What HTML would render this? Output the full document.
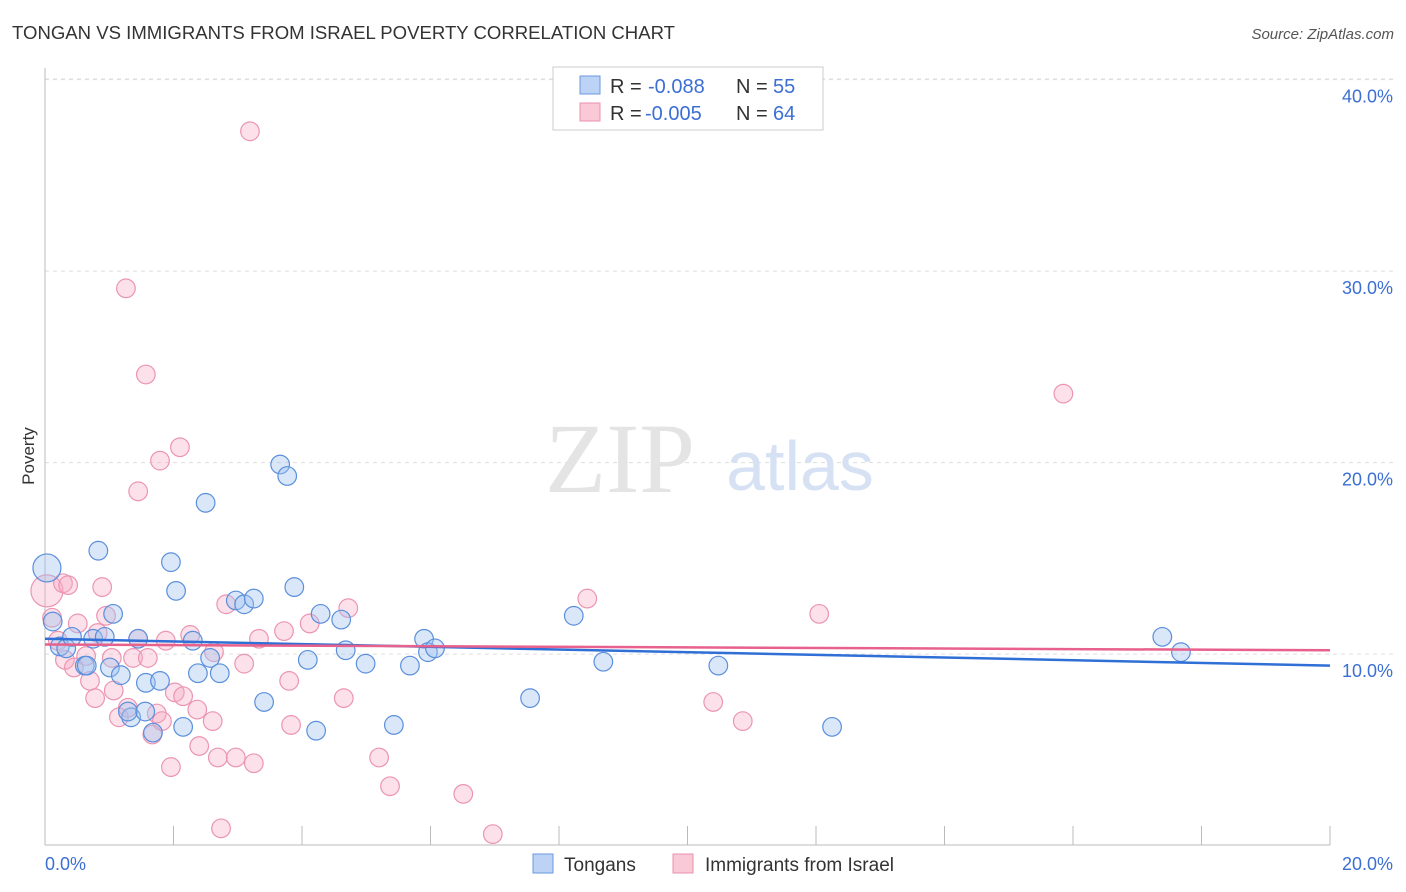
<!DOCTYPE html>
<html><head><meta charset="utf-8"><style>
body{margin:0;background:#fff;font-family:"Liberation Sans",sans-serif}
</style></head><body>
<svg width="1406" height="892" style="display:block">
<text x="12" y="39" font-size="18" fill="#333" textLength="663" lengthAdjust="spacingAndGlyphs">TONGAN VS IMMIGRANTS FROM ISRAEL POVERTY CORRELATION CHART</text>
<text x="1394" y="39" font-size="15" fill="#555" text-anchor="end" font-style="italic">Source: ZipAtlas.com</text>
<g id="grid"></g>
<line x1="45" y1="68" x2="45" y2="845" stroke="#bbb"/>
<line x1="45" y1="845" x2="1330" y2="845" stroke="#bbb"/>
<text x="34" y="456" font-size="17" fill="#333" transform="rotate(-90 34 456)" text-anchor="middle">Poverty</text>
<text x="620" y="492" font-size="100" fill="#e4e4e4" font-family="Liberation Serif" text-anchor="middle">ZIP</text>
<text x="800" y="490" font-size="70" fill="#d6e2f4" text-anchor="middle">atlas</text>
<g id="pts"></g>
<g id="lines"></g>
<text x="45" y="870" font-size="18" fill="#3b6fd4">0.0%</text>
<text x="1393" y="870" font-size="18" fill="#3b6fd4" text-anchor="end">20.0%</text>
<g font-size="20">
<rect x="553" y="67" width="270" height="63" fill="#fff" stroke="#ccc"/>
<rect x="580" y="76" width="20" height="18" fill="#bcd3f5" stroke="#6a9ae0"/>
<rect x="580" y="103" width="20" height="18" fill="#f9c9d7" stroke="#e891ad"/>
<text x="610" y="93" fill="#333">R =</text><text x="648" y="93" fill="#3b6fd4">-0.088</text>
<text x="736" y="93" fill="#333">N =</text><text x="773" y="93" fill="#3b6fd4">55</text>
<text x="610" y="120" fill="#333">R =</text><text x="645" y="120" fill="#3b6fd4">-0.005</text>
<text x="736" y="120" fill="#333">N =</text><text x="773" y="120" fill="#3b6fd4">64</text>
</g>
<g>
<rect x="533" y="854" width="20" height="19" fill="#bcd3f5" stroke="#6a9ae0"/>
<text x="564" y="871" font-size="19" fill="#333">Tongans</text>
<rect x="673" y="854" width="20" height="19" fill="#f9c9d7" stroke="#e891ad"/>
<text x="705" y="871" font-size="19" fill="#333">Immigrants from Israel</text>
</g>
</svg>
<script>
const yTicks=[10,20,30,40];
const yTickLabels=["10.0%","20.0%","30.0%","40.0%"];
const xTicks=[0,2,4,6,8,10,12,14,16,18,20];
const tonganX=[0.03,0.12,0.23,0.33,0.42,0.62,0.65,0.83,0.75,0.93,1.06,1.01,1.18,1.34,1.29,1.45,1.57,1.56,1.68,1.79,1.96,2.04,2.15,2.30,2.38,2.50,2.57,2.72,2.97,3.10,3.25,3.41,3.66,3.77,3.88,4.09,4.22,4.29,4.61,4.68,4.99,5.43,5.68,5.90,5.96,6.07,7.55,8.23,8.69,10.48,12.25,17.39,17.68];
const tonganY=[14.5,11.7,10.4,10.3,10.9,9.4,9.4,15.4,10.8,10.9,12.1,9.3,8.9,6.7,7.0,10.8,8.5,7.0,5.9,8.6,14.8,13.3,6.2,10.7,9.0,17.9,9.8,9.0,12.8,12.6,12.9,7.5,19.9,19.3,13.5,9.7,6.0,12.1,11.8,10.2,9.5,6.3,9.4,10.8,10.1,10.3,7.7,12.0,9.6,9.4,6.2,10.9,10.1];
const tonganR=[14];
const israelX=[0.03,0.11,0.20,0.28,0.31,0.36,0.45,0.51,0.64,0.70,0.78,0.82,0.89,0.95,1.04,1.07,1.15,1.26,1.29,1.37,1.45,1.57,1.60,1.67,1.74,1.79,1.82,1.88,1.96,2.02,2.10,2.15,2.26,2.37,2.40,2.61,2.63,2.69,2.74,2.82,2.97,3.10,3.19,3.25,3.33,3.80,3.72,3.83,4.12,4.65,4.72,5.20,5.37,6.51,6.97,8.44,10.40,10.86,12.05,15.85,1.45];
const israelY=[13.3,11.9,10.7,13.7,9.7,13.6,9.3,11.6,9.9,8.6,7.7,11.1,13.5,12.0,9.8,8.1,6.7,29.1,7.2,9.8,10.8,24.6,9.8,5.8,6.9,20.1,6.5,10.7,4.1,8.0,20.8,7.8,11.0,7.1,5.2,6.5,10.1,4.6,0.9,12.6,4.6,9.5,37.3,4.3,10.8,8.6,11.2,6.3,11.6,7.7,12.4,4.6,3.1,2.7,0.6,12.9,7.5,6.5,12.1,23.6,18.5];
const israelR=[16];
const tonganTrend=[10.8,9.4];
const israelTrend=[10.5,10.2];
const X0=45,X1=1330,Y0=845.6,PY=19.15;
const xs=v=>X0+(X1-X0)*v/20, ys=v=>Y0-v*PY;
const NS="http://www.w3.org/2000/svg";
const grid=document.getElementById('grid');
function mk(t,a,p){const e=document.createElementNS(NS,t);for(const k in a)e.setAttribute(k,a[k]);p.appendChild(e);return e;}
yTicks.forEach((v,i)=>{
 const l=mk('line',{x1:45,x2:1393,y1:ys(v),y2:ys(v),stroke:'#ddd','stroke-dasharray':'4 4'},grid);
 
 
 const t=mk('text',{x:1393,y:ys(v)+23,'font-size':18,fill:'#3b6fd4','text-anchor':'end'},grid);
 t.textContent=yTickLabels[i];
 
 
});
const tl=mk('line',{x1:45,x2:1393,y1:79,y2:79,stroke:'#ddd','stroke-dasharray':'4 4'},grid);


xTicks.forEach(v=>{
 const l=mk('line',{x1:xs(v),x2:xs(v),y1:826,y2:845,stroke:'#bbb'},grid);
 
 
});
const pts=document.getElementById('pts');
israelX.forEach((x,i)=>{
 const c=mk('circle',{cx:xs(x),cy:ys(israelY[i]),r:i==0?israelR[0]:9.3,fill:'rgba(246,170,195,0.35)',stroke:'#eb95b2','stroke-width':1.2},pts);
 
 
});
tonganX.forEach((x,i)=>{
 const c=mk('circle',{cx:xs(x),cy:ys(tonganY[i]),r:i==0?tonganR[0]:9.3,fill:'rgba(160,195,240,0.4)',stroke:'#5b8fdc','stroke-width':1.2},pts);
 
 
});
const lines=document.getElementById('lines');
const a=mk('line',{x1:xs(0),x2:xs(20),y1:ys(tonganTrend[0]),y2:ys(tonganTrend[1]),stroke:'#2f6fd6','stroke-width':2.5},lines);


const b=mk('line',{x1:xs(0),x2:xs(20),y1:ys(israelTrend[0]),y2:ys(israelTrend[1]),stroke:'#e8608c','stroke-width':2.5},lines);


</script>
</body></html>
